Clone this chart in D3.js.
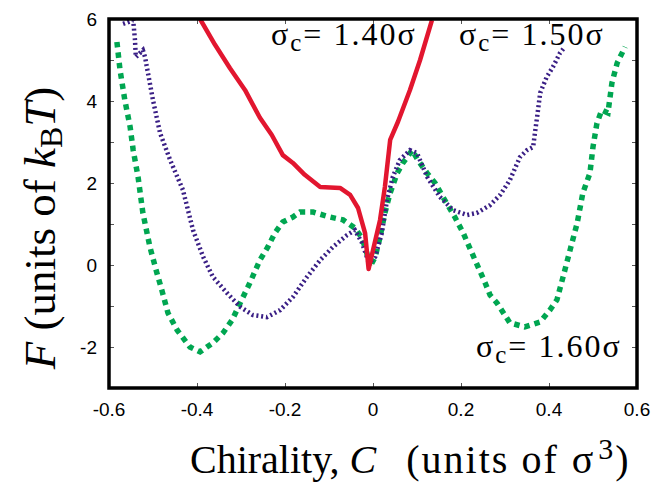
<!DOCTYPE html>
<html>
<head>
<meta charset="utf-8">
<script src="https://cdn.jsdelivr.net/npm/d3@7"></script>
<style>
  body { margin: 0; background: #fff; }
  svg { display: block; }
</style>
</head>
<body>
<div id="chart"></div>
<script>
var W = 654, H = 487;
var margin = { top: 19, right: 17, bottom: 99, left: 109 };
var width = W - margin.left - margin.right;
var height = H - margin.top - margin.bottom;

// sigma_c = 1.40 sigma (red, solid)
var red140 = [
  [-0.393, 6.0], [-0.359, 5.37], [-0.325, 4.80], [-0.291, 4.27], [-0.257, 3.59],
  [-0.230, 3.17], [-0.205, 2.68], [-0.182, 2.49], [-0.155, 2.20], [-0.120, 1.90],
  [-0.075, 1.88], [-0.052, 1.71], [-0.034, 1.39], [-0.018, 0.78], [-0.010, -0.1],
  [0.016, 1.1], [0.027, 1.9], [0.039, 3.05], [0.057, 3.5], [0.084, 4.27],
  [0.107, 5.0], [0.134, 5.97]
];
// sigma_c = 1.50 sigma (blue, dotted)
var blue150 = [
  [-0.568, 5.88], [-0.545, 5.97], [-0.541, 5.49], [-0.539, 5.07], [-0.523, 5.24],
  [-0.518, 5.07], [-0.514, 4.83], [-0.500, 4.02], [-0.484, 3.22], [-0.461, 2.56],
  [-0.432, 1.83], [-0.409, 0.85], [-0.386, 0.20], [-0.364, -0.29], [-0.332, -0.68],
  [-0.302, -1.02], [-0.273, -1.22], [-0.241, -1.27], [-0.211, -1.10], [-0.182, -0.78],
  [-0.150, -0.29], [-0.120, 0.12], [-0.091, 0.44], [-0.059, 0.73], [-0.041, 0.85],
  [-0.025, 0.54], [-0.014, 0.20], [-0.007, 0.07], [0.005, 0.20], [0.020, 0.78],
  [0.032, 1.59], [0.045, 2.15], [0.061, 2.56], [0.084, 2.80], [0.100, 2.73],
  [0.123, 2.15], [0.152, 1.66], [0.182, 1.34], [0.214, 1.22], [0.236, 1.27],
  [0.266, 1.46], [0.289, 1.71], [0.311, 2.07], [0.334, 2.63], [0.350, 2.80],
  [0.364, 2.88], [0.368, 3.22], [0.373, 3.61], [0.380, 4.20], [0.395, 4.59],
  [0.409, 4.83], [0.425, 5.17], [0.436, 5.32]
];
// sigma_c = 1.60 sigma (green, dashed)
var green160 = [
  [-0.582, 5.44], [-0.575, 4.76], [-0.564, 4.02], [-0.552, 3.37], [-0.545, 2.80],
  [-0.534, 2.15], [-0.523, 1.27], [-0.507, 0.44], [-0.491, -0.20], [-0.480, -0.61],
  [-0.466, -1.17], [-0.445, -1.59], [-0.416, -2.00], [-0.393, -2.12], [-0.364, -1.90],
  [-0.341, -1.66], [-0.320, -1.34], [-0.302, -0.93], [-0.280, -0.44], [-0.257, 0.12],
  [-0.239, 0.44], [-0.223, 0.78], [-0.205, 1.05], [-0.182, 1.17], [-0.166, 1.29],
  [-0.136, 1.29], [-0.098, 1.17], [-0.068, 1.10], [-0.041, 0.90], [-0.025, 0.66],
  [-0.014, 0.29], [-0.007, -0.05], [0.005, 0.20], [0.016, 0.68], [0.027, 1.27],
  [0.039, 1.76], [0.055, 2.24], [0.068, 2.49], [0.089, 2.80], [0.102, 2.56],
  [0.123, 2.24], [0.141, 2.00], [0.159, 1.66], [0.186, 1.17], [0.205, 0.78],
  [0.225, 0.29], [0.239, -0.05], [0.255, -0.44], [0.266, -0.73], [0.282, -0.93],
  [0.311, -1.41], [0.345, -1.51], [0.380, -1.39], [0.402, -1.10], [0.418, -0.85],
  [0.432, -0.29], [0.448, 0.37], [0.464, 1.02], [0.477, 1.76], [0.493, 2.24],
  [0.500, 2.88], [0.509, 3.46], [0.520, 3.78], [0.534, 3.71], [0.543, 4.44],
  [0.555, 4.93], [0.573, 5.32]
];

var xTicks = [-0.6, -0.4, -0.2, 0, 0.2, 0.4, 0.6];
var xTickLabels = ["-0.6", "-0.4", "-0.2", "0", "0.2", "0.4", "0.6"];
var yTicks = [-3, -2, -1, 0, 1, 2, 3, 4, 5, 6];
var yLabelTicks = [-2, 0, 2, 4, 6];

var svg = d3.select("#chart").append("svg")
  .attr("width", W).attr("height", H);

var g = svg.append("g")
  .attr("transform", "translate(" + margin.left + "," + margin.top + ")");

var x = d3.scaleLinear().domain([-0.6, 0.6]).range([0, width]);
var y = d3.scaleLinear().domain([-3, 6]).range([height, 0]);

svg.append("defs").append("clipPath").attr("id", "clip")
  .append("rect").attr("x", 0).attr("y", 0).attr("width", width).attr("height", height);

// inward ticks on all four sides
var tickLen = 5;
function tickAxis(axis) {
  return function (sel) {
    sel.call(axis);
    sel.select(".domain").remove();
    sel.selectAll(".tick line").attr("stroke", "#555").attr("stroke-width", 1);
    sel.selectAll(".tick text").remove();
  };
}
g.append("g").attr("transform", "translate(0," + height + ")")
  .call(tickAxis(d3.axisTop(x).tickValues(xTicks).tickSize(tickLen)));
g.append("g")
  .call(tickAxis(d3.axisBottom(x).tickValues(xTicks).tickSize(tickLen)));
g.append("g")
  .call(tickAxis(d3.axisRight(y).tickValues(yTicks).tickSize(tickLen)));
g.append("g").attr("transform", "translate(" + width + ",0)")
  .call(tickAxis(d3.axisLeft(y).tickValues(yTicks).tickSize(tickLen)));

// tick labels
g.append("g").selectAll("text").data(xTicks).enter().append("text")
  .attr("x", d => x(d))
  .attr("y", height + 28)
  .attr("text-anchor", "middle")
  .style("font-family", "Liberation Sans, Arial, sans-serif")
  .style("font-size", "19px")
  .text((d, i) => xTickLabels[i]);

g.append("g").selectAll("text").data(yLabelTicks).enter().append("text")
  .attr("x", -12)
  .attr("y", d => y(d))
  .attr("dy", "0.35em")
  .attr("text-anchor", "end")
  .style("font-family", "Liberation Sans, Arial, sans-serif")
  .style("font-size", "19px")
  .text(d => d);

// curves
var line = d3.line().x(d => x(d[0])).y(d => y(d[1]));
var plot = g.append("g").attr("clip-path", "url(#clip)");

plot.append("path").datum(green160)
  .attr("d", line).attr("fill", "none")
  .attr("stroke", "#00a651").attr("stroke-width", 5.5)
  .attr("stroke-dasharray", "5.5,5");

plot.append("path").datum(blue150)
  .attr("d", line).attr("fill", "none")
  .attr("stroke", "#3a1f85").attr("stroke-width", 4.5)
  .attr("stroke-dasharray", "2,2.8");

plot.append("path").datum(red140)
  .attr("d", line).attr("fill", "none")
  .attr("stroke", "#e2162f").attr("stroke-width", 4.5)
  .attr("stroke-linejoin", "round");

// frame
g.append("rect").attr("x", 0).attr("y", 0)
  .attr("width", width).attr("height", height)
  .attr("fill", "none").attr("stroke", "#000").attr("stroke-width", 3.5);

// annotations
var serif = "Liberation Serif, Times New Roman, serif";
function sigmaLabel(px, py, val) {
  var t = svg.append("text").attr("x", px).attr("y", py)
    .style("font-family", serif).style("font-size", "32px")
    .style("letter-spacing", "2px");
  t.append("tspan").text("σ");
  t.append("tspan").attr("dy", 6).style("font-size", "25px").text("c");
  t.append("tspan").attr("dy", -6).text("= " + val + "σ");
}
sigmaLabel(271, 45, "1.40");
sigmaLabel(459, 45, "1.50");
sigmaLabel(476, 357, "1.60");

// x axis title
var xt = svg.append("text").attr("x", 190).attr("y", 473)
  .style("font-family", serif).style("font-size", "40px");
xt.append("tspan").text("Chirality, ");
xt.append("tspan").style("font-style", "italic").text("C");
xt.append("tspan").attr("dx", 30).style("letter-spacing", "2px").text("(units of ");
xt.append("tspan").attr("dx", 1).text("σ");
xt.append("tspan").attr("dx", 5).attr("dy", -14).style("font-size", "30px").text("3");
xt.append("tspan").attr("dx", 2).attr("dy", 14).text(")");

// y axis title
var yt = svg.append("text")
  .attr("transform", "translate(55," + 228 + ") rotate(-90)")
  .attr("text-anchor", "middle")
  .style("font-family", serif).style("font-size", "45px");
yt.append("tspan").style("font-style", "italic").text("F");
yt.append("tspan").text(" (units of ");
yt.append("tspan").style("font-style", "italic").text("k");
yt.append("tspan").attr("dy", 7).style("font-size", "32px").text("B");
yt.append("tspan").attr("dy", -7).style("font-style", "italic").text("T");
yt.append("tspan").text(")");
</script>
</body>
</html>
